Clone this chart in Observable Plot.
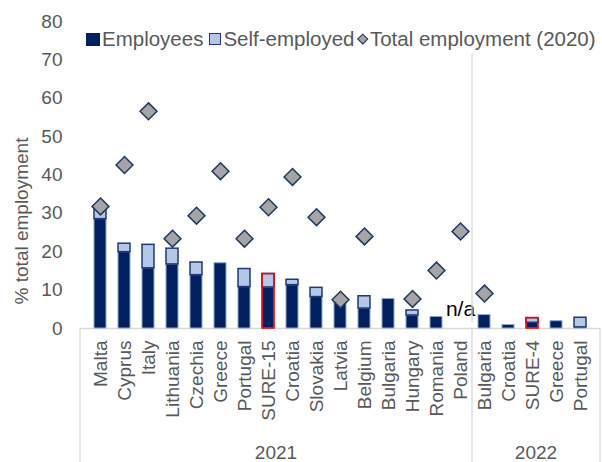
<!DOCTYPE html>
<html><head><meta charset="utf-8">
<script src="https://cdn.jsdelivr.net/npm/d3@7"></script>
<script src="https://cdn.jsdelivr.net/npm/@observablehq/plot@0.6"></script>
<style>
body{margin:0;background:#fff;font-family:"Liberation Sans",Arial,sans-serif;}
#wrap{position:relative;width:602px;height:462px;overflow:hidden;}
#legend{position:absolute;left:86px;top:28px;height:22px;font-size:20.5px;color:#595959;white-space:nowrap;display:flex;align-items:center;}
.sw{display:inline-block;box-sizing:border-box;flex:none;}
.sw.emp{width:14px;height:13px;background:#002060;margin-right:2px;}
.sw.self{width:12px;height:12px;background:#b4c7e7;border:1.5px solid #1f3a7a;margin-left:6px;margin-right:2px;}
.sw.tot{width:7.5px;height:7.5px;background:#a5a5a5;border:1.4px solid #1f3864;transform:rotate(45deg);margin-left:5px;margin-right:3px;}
</style></head>
<body><div id="wrap"><div id="chart"></div>
<div id="legend"><span class="sw emp"></span>Employees<span class="sw self"></span>Self-employed<span class="sw tot"></span>Total employment (2020)</div>
</div>
<script>
const countries2021 = ["Malta","Cyprus","Italy","Lithuania","Czechia","Greece","Portugal","SURE-15","Croatia","Slovakia","Latvia","Belgium","Bulgaria","Hungary","Romania","Poland"];
const employees2021 = [28.5,19.9,15.7,16.7,13.9,17.0,10.8,10.7,11.3,8.2,7.3,5.2,7.7,3.4,3.0,null];
const selfEmployed2021 = [2.8,2.2,6.1,4.1,3.3,0,4.7,3.5,1.4,2.4,0,3.2,0,1.3,0,null];
const totalEmployment2020_2021 = [31.8,42.6,56.6,23.4,29.4,41.0,23.4,31.6,39.5,29.0,7.5,24.0,null,7.7,15.1,25.3];

const countries2022 = ["Bulgaria","Croatia","SURE-4","Greece","Portugal"];
const employees2022 = [3.5,0.9,1.5,1.9,0.3];
const selfEmployed2022 = [0,0,1.2,0,2.5];
const totalEmployment2020_2022 = [9.1,null,null,null,null];

const years = ["2021","2022"];
const naLabel = "n/a";
const yTicks = [0,10,20,30,40,50,60,70,80];

const rows = [];
function addYear(year, countries, emp, self, tot) {
  countries.forEach((c, i) => rows.push({
    key: year + "|" + c, year, country: c,
    emp: emp[i], self: self[i], total: emp[i] == null ? null : emp[i] + self[i],
    tot2020: tot[i], sure: c.startsWith("SURE")
  }));
}
addYear("2021", countries2021, employees2021, selfEmployed2021, totalEmployment2020_2021);
addYear("2022", countries2022, employees2022, selfEmployed2022, totalEmployment2020_2022);
const keys = rows.map(d => d.key);

const plot = Plot.plot({
  width: 602, height: 462,
  marginTop: 21, marginBottom: 134, marginLeft: 80, marginRight: 2,
  style: {fontFamily: "'Liberation Sans', Arial, sans-serif", fontSize: "19px", color: "#595959", background: "transparent"},
  x: {domain: keys, paddingInner: 0.52, paddingOuter: 0.26, label: null, tickFormat: d => d.split("|")[1], tickRotate: -90, tickSize: 0, tickPadding: 12},
  y: {domain: [0, 80], ticks: yTicks, label: null, tickSize: 0, tickPadding: 18},
  marks: [
    Plot.ruleY([0], {stroke: "#d9d9d9", strokeWidth: 1.3}),
    Plot.barY(rows.filter(d => d.emp != null), {x: "key", y1: 0, y2: "emp", fill: "#002060", stroke: "#8ea6cf", strokeWidth: 1}),
    Plot.barY(rows.filter(d => d.self > 0), {x: "key", y1: "emp", y2: "total", fill: "#b4c7e7", stroke: "#1f3a7a", strokeWidth: 1.5}),
    Plot.barY(rows.filter(d => d.sure), {x: "key", y1: 0, y2: "total", fill: "none", stroke: "#ff0000", strokeWidth: 1.5}),
    Plot.dot(rows.filter(d => d.tot2020 != null), {x: "key", y: "tot2020", symbol: "diamond2", r: 7.6, fill: "#a5a5a5", stroke: "#1f3864", strokeWidth: 1.5}),
    Plot.text(rows.filter(d => d.emp == null), {x: "key", y: 0, text: () => naLabel, dy: -19, fill: "#000", fontSize: 21, lineAnchor: "middle"})
  ]
});
document.getElementById("chart").append(plot);

// group separators and year labels, positioned from the x scale
const xs = plot.scale("x");
const bw = xs.bandwidth;
const svg = d3.select(plot);
const yScale = plot.scale("y");
const y0 = yScale.apply(0);
const firstKey = k => rows.find(d => d.year === k).key;
const lastKey = k => rows.filter(d => d.year === k).slice(-1)[0].key;
const left = 80, right = 600;
const bounds = [left];
years.forEach((yr, i) => {
  if (i < years.length - 1) {
    const nextYr = years[i + 1];
    bounds.push((xs.apply(lastKey(yr)) + bw + xs.apply(firstKey(nextYr))) / 2);
  }
});
bounds.push(right);
const g = svg.append("g");
bounds.forEach((b, i) => {
  g.append("line").attr("x1", b).attr("x2", b).attr("y1", y0).attr("y2", 462).attr("stroke", "#d9d9d9").attr("stroke-width", 1.3);
  if (i > 0 && i < bounds.length - 1) {
    g.append("line").attr("x1", b).attr("x2", b).attr("y1", yScale.apply(71.5)).attr("y2", y0 - 6).attr("stroke", "#d9d9d9").attr("stroke-width", 1.3);
  }
});
years.forEach((yr, i) => {
  g.append("text").attr("x", (bounds[i] + bounds[i + 1]) / 2).attr("y", 452).attr("dy", "0.35em")
    .attr("text-anchor", "middle").attr("fill", "#595959").attr("font-size", 19).text(yr);
});
svg.append("text").attr("transform", `translate(21,221) rotate(-90)`).attr("text-anchor", "middle").attr("dy", "0.35em")
  .attr("fill", "#595959").attr("font-size", 19).text("% total employment");
</script>
</body></html>
